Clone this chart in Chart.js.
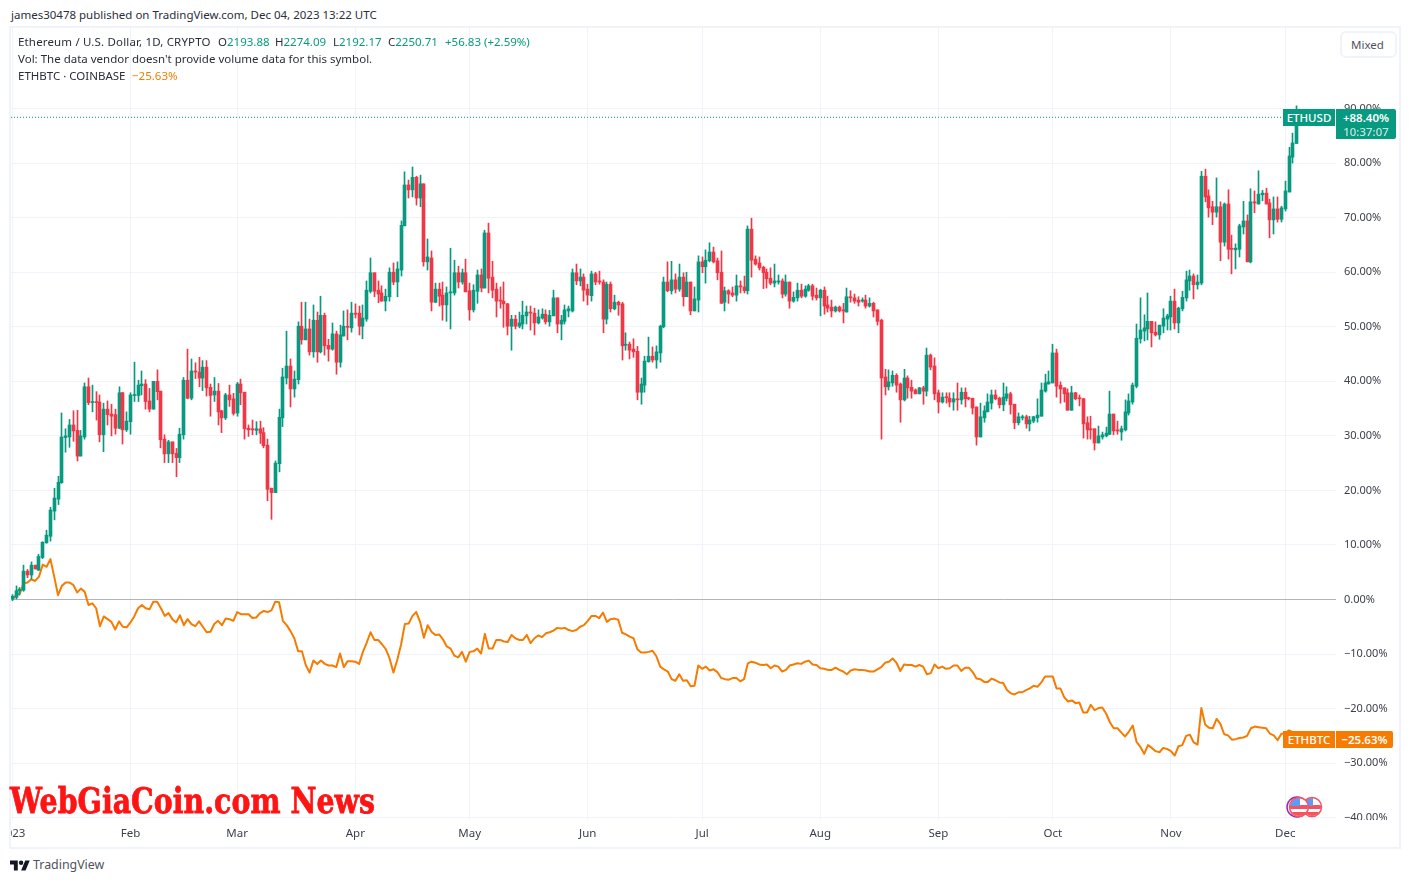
<!DOCTYPE html>
<html>
<head>
<meta charset="utf-8">
<title>ETHUSD vs ETHBTC</title>
<script src="https://cdn.jsdelivr.net/npm/chart.js@4"></script>
<style>
  html, body { margin: 0; padding: 0; background: #fff; }
  body { width: 1410px; height: 883px; position: relative; overflow: hidden; font-family: "Noto Sans", sans-serif; font-size: 11.5px; color: #2a2e39; }
  .abs { position: absolute; white-space: nowrap; line-height: 16px; }
  #frame { position: absolute; left: 9px; top: 26px; width: 1388px; height: 819px; border: 2px solid #f0f3fa; }
  #priceChart { position: absolute; left: 11px; top: 28px; }
  .up { color: #089981; }
  .tag { position: absolute; color: #fff; text-align: center; white-space: nowrap; }
  #mixed { position: absolute; left: 1340px; top: 31px; width: 44px; height: 23px; padding-left: 9px; border: 2px solid #f0f3fa; border-radius: 6px; line-height: 24px; color: #50535e; background: #fff; }
  #brand { position: absolute; left: 10px; top: 778px; font-family: "DejaVu Serif", serif; font-weight: bold; font-size: 36px; line-height: 44px; color: #ff1414; -webkit-text-stroke: 0.8px #ff1414; white-space: nowrap; transform-origin: 0 0; transform: scaleX(0.79); }
</style>
</head>
<body>
<div id="frame"></div>
<canvas id="priceChart" width="1388" height="819" style="width:1388px;height:819px"></canvas>

<div class="abs" style="left:11px;top:7px">james30478 published on TradingView.com, Dec 04, 2023 13:22 UTC</div>
<div class="abs" style="left:18px;top:34px;letter-spacing:.16px">Ethereum / U.S. Dollar, 1D, CRYPTO</div>
<div class="abs" style="left:218px;top:34px">O<span class="up">2193.88</span></div>
<div class="abs" style="left:275px;top:34px">H<span class="up">2274.09</span></div>
<div class="abs" style="left:333px;top:34px">L<span class="up">2192.17</span></div>
<div class="abs" style="left:388px;top:34px">C<span class="up">2250.71</span></div>
<div class="abs up" style="left:445px;top:34px">+56.83 (+2.59%)</div>
<div class="abs" style="left:18px;top:51px">Vol: The data vendor doesn't provide volume data for this symbol.</div>
<div class="abs" style="left:18px;top:68px">ETHBTC · COINBASE</div>
<div class="abs" style="left:132px;top:68px;color:#f57c00">−25.63%</div>
<div id="mixed">Mixed</div>

<div class="tag" style="left:1283px;top:109px;width:52px;height:17px;line-height:17px;background:#089981;font-weight:500">ETHUSD</div>
<div class="tag" style="left:1336px;top:109px;width:60px;height:30px;background:#089981;border-radius:0 2px 2px 0;line-height:14px;padding-top:2px;box-sizing:border-box;font-weight:600">+88.40%<br><span style="opacity:.75;font-weight:500">10:37:07</span></div>
<div class="tag" style="left:1283px;top:731px;width:52px;height:17px;line-height:17px;background:#f57c00;font-weight:500">ETHBTC</div>
<div class="tag" style="left:1336px;top:731px;width:57px;height:17px;line-height:17px;background:#f57c00;border-radius:0 2px 2px 0;font-weight:600">−25.63%</div>

<div id="brand">WebGiaCoin.com News</div>

<svg class="abs" style="left:1285px;top:796px" width="40" height="24" viewBox="0 0 40 24">
  <defs><clipPath id="c1"><circle cx="27" cy="11" r="9"/></clipPath><clipPath id="c2"><circle cx="14" cy="11" r="9"/></clipPath></defs>
  <circle cx="12" cy="11" r="10" fill="#fff" stroke="#9c27b0" stroke-width="1.5"/>
  <g clip-path="url(#c1)"><rect x="17" y="1" width="20" height="20" fill="#fff"/><rect x="17" y="9" width="20" height="4" fill="#f7525f"/><rect x="17" y="16" width="20" height="4" fill="#f7525f"/><rect x="17" y="2" width="11" height="8" fill="#5b9cf6"/></g>
  <circle cx="27" cy="11" r="9.5" fill="none" stroke="#f7525f" stroke-width="1.5"/>
  <g clip-path="url(#c2)"><rect x="4" y="1" width="20" height="20" fill="#fff"/><rect x="4" y="9" width="20" height="4" fill="#f7525f"/><rect x="4" y="16" width="20" height="4" fill="#f7525f"/><rect x="4" y="2" width="11" height="8" fill="#5b9cf6"/></g>
  <circle cx="14" cy="11" r="9.5" fill="none" stroke="#f7525f" stroke-width="1.5"/>
</svg>

<svg class="abs" style="left:10px;top:860px" width="20" height="11" viewBox="0 4 36 18"><path fill="#131722" d="M14 22H7V11H0V4h14v18zM28 22h-8l7.5-18h8L28 22z"/><circle fill="#131722" cx="20" cy="8" r="4"/></svg>
<div class="abs" style="left:33px;top:857px;font-size:12.4px;color:#50535e">TradingView</div>

<script>
// percent change from first candle, one entry per day from Jan 1 2023
const opens = [
  0,0.4,1.6,1.7,5.2,4.5,6.3,5.4,7.7,10.4,11.6,16.2,18.4,21.4,29.7,29.8,32,31,26.3,29.8,
  39,36.1,36.2,36.2,30.2,34.9,34,33.9,31.4,37.9,31.1,32.6,37.4,37.4,39.2,39.5,36.4,34.9,40,38.2,
  29.4,26.7,28.9,26.8,26,30.2,40.2,36.9,41.9,41.7,40.6,42.6,38.9,37.5,38.2,34.6,33.3,37.5,36.8,34.2,
  39.5,38,31.4,31.3,31,31.3,30.6,28.3,20.4,19.6,24.9,33.3,40.6,42.8,38.6,40.3,50.1,47.6,49.6,45.4,
  51.2,45.4,52.1,46.6,45.9,48.7,43.5,48.3,50.1,49.8,52.5,52.5,50.1,51.4,56.5,59.9,56.7,56.2,54.7,55.5,
  60,58.2,60.4,68.5,76,75.1,77.4,73.6,76.2,61.9,62.6,54.5,56.9,55.8,54,56.2,56.2,59.9,58.2,59.9,
  56.6,53.1,56.5,59.5,57.1,67.2,59.1,56.9,54.9,54.7,54.2,50.1,51.4,50.1,50.5,52,52.7,52.5,50.7,51.6,
  52.3,50.9,52,55.3,50.5,51,52.9,52.9,59.9,58.4,59.1,56.9,55.7,59.7,58.4,58.2,51.4,57.8,53.3,54.5,
  54.2,46.6,46.8,45.9,45.5,38,39.3,43.6,44.6,43.9,45.2,50,58.2,56.6,58.6,56.9,59.1,55.5,58.2,52.9,
  54.9,61.9,61,62.1,63.7,62.1,60,54.5,56.6,56.2,55.8,57.5,57.3,56.6,67.9,62.4,61.7,60.9,60,58.9,
  58,58.2,58.4,56,58.2,54.7,55.3,56.7,55.6,56.7,57.5,55.8,55.3,56.7,54,53.6,52.9,53.6,53.1,52.7,
  55.5,55.3,54.9,54.7,54.9,53.8,54.3,53.1,51.2,40.8,39,39.7,41.1,39.5,36.6,40.6,38.9,38.4,37.7,38.8,
  38.2,44.8,42.8,37.9,36.2,37.1,36.9,36.2,36.8,36.6,38,36.9,36.9,35.3,29.8,33.3,34.4,36,37.5,36.9,
  35.7,36.9,37.7,35.8,32.4,33.3,33.5,32.2,32.7,33.3,33.6,38.2,39.5,39.7,45.2,39.3,38.8,37.9,34.7,37.9,
  36.9,36.8,32.4,31.3,31.3,28.7,29.8,30,30.3,34,31.1,30.7,31.1,34.2,36.2,39.1,47.8,49.2,49.6,51,
  49,48.5,50.1,51.4,51.8,54.7,50.7,53.3,55.3,58.4,59.3,57.7,58,77.6,74,72,71,72,65.5,72.5,
  64.4,64.1,64.2,68.3,69.4,61.9,72.9,72.5,74.2,74.5,72.7,69.6,71.6,69.7,71.6,74.7,81.1,83.6
];
const highs = [
  0.9,2.5,2.2,6.3,5.5,6.9,6.3,8.3,10.6,12.7,16.9,20.4,22.6,34.2,31.3,33,34.6,34.7,31,39.7,
  40.6,39.3,38.1,37.5,36,36.4,35.8,34.9,39,38,34.4,37.9,43.5,40.2,41.9,40.3,38.7,40,42.1,38.2,
  30.2,29.2,28.9,27.7,31.4,40.7,45.9,44.1,43.4,44.4,43.8,43.8,39.5,40.7,39.6,34.7,37.8,39.3,37.8,39.8,
  40.4,38,32,32.9,32.6,32.7,31.5,29.4,20.4,25.4,34.9,42.4,49.2,44.1,41.9,50.9,54.5,54.5,51.4,54,
  52.7,55.6,52.5,47.7,50.7,49.2,50.3,52.9,53.1,54.5,54.2,53.8,54,58.4,62.6,59.9,58.4,57.5,56.9,60.8,
  61.7,61.9,69.4,78.4,76.9,79.3,77.6,77.8,76.2,66.1,63.9,58,58,58.2,57.3,64.4,62.2,61.1,60.6,62.4,
  58,57.7,60.4,60.6,67.7,69,62,58,57.3,58.2,54.3,52.1,52.1,52.7,54.7,53.8,53.8,53.4,53.1,53.3,
  53.1,53,56.7,55.3,52.1,54,53.8,60.6,61.5,60.6,59.7,57.8,60.2,60,60.2,58.6,58.2,58.2,55.8,54.7,
  54.5,48.9,47.2,47.8,46.4,40.6,44.6,48.1,46.3,46.5,50.3,59.1,61.9,62,59.7,61.5,59.9,60,58.2,57.3,
  63,62.8,64.1,65.4,64.6,62.6,63.9,57.3,56.8,57.3,59.5,58.4,59.3,68.5,69.9,63,62.8,61.1,60.6,60.8,
  61.5,59.5,58.8,59.5,58.2,56.4,58,57.8,57.5,57.8,57.8,57.1,56.9,57.3,55.6,54.9,53.8,53.8,54.3,57.1,
  56.6,56,55.5,55.3,55.8,55.3,54.5,53.1,51.4,42.2,42.1,41.9,41.4,39.7,42.2,41,40.2,38.6,38.9,39.1,
  46.1,45,44.3,38.4,37.9,37.9,37.9,37.9,39.7,38.8,38.8,37.1,36.9,35.3,36,35.5,37.7,38.4,38.4,37.1,
  39.7,39,38,35.8,34.2,33.8,33.8,33.6,33.6,36.8,39.7,41.3,41.9,46.8,45.9,39.9,38.8,38.6,39.1,38,
  37.5,36.9,33.5,33.6,31.3,31.8,30.7,31.6,38.2,34,32.7,31.8,36.6,37.7,39.7,50.5,55.3,52.2,56.2,51,
  50.9,50.3,53.3,52.3,55.6,56.9,53.6,56.5,60.2,60.4,59.7,59.5,78.5,78.9,75.1,73,77.3,72.9,72.7,75.1,
  66.8,65.2,68.8,73,70.5,75.3,74.9,78.6,75,75.4,73.4,73.8,73.8,72.1,76.7,82.9,85.5,90.5
];
const lows = [
  -0.2,0,0.8,1.5,4,3.7,5.6,5.3,7.5,10.3,10.7,14.6,17.4,21.3,27,27.9,29,25.4,26.3,29.4,
  35.7,34.4,32.9,28.9,27.1,32,30,30.3,31.3,28.5,30.8,30.3,36.3,36.3,37.5,34.9,34.4,34.9,36.6,27.8,
  25.1,25.1,25.1,22.5,25.1,29.4,36.8,36.6,40.5,39,38.3,37.3,33.6,36.3,32,30.6,33,35.4,33.8,33.6,
  35.7,29.4,29.9,30.2,30.2,28.6,27.8,18.1,14.7,19.6,23.4,31.7,39.5,35.3,37.1,39.5,46.8,47.6,44.8,44.4,
  43.5,45.2,44.8,43.7,45.7,41.3,42.6,48.3,47.6,49,51.6,48.5,47.8,51,56.2,55.5,54.4,54.7,52.9,54.7,
  57.7,55.5,59.3,68.5,73.6,73.8,72.3,72,61.1,60.4,52.9,54.4,53.8,51.2,51,49.6,55.8,57.1,57.8,56.4,
  51.2,52.7,54.3,56.4,57.1,56.2,55.3,51.8,53.4,49.9,48.5,45.7,49.6,49.8,49.6,50.5,49.4,48.5,50.5,51.4,
  50.5,50.1,52,48.9,47.6,50.5,51.8,52.7,57.7,57.5,54.7,54,54.7,57.7,57.8,48.9,50.5,52.7,53.1,52.1,
  43.9,45.7,44.1,44.4,36.6,35.8,38,43.5,43.5,42.4,43.5,49.8,56.4,56,56.2,56.5,53.8,55.5,52.2,52.9,
  52.7,59.9,58,61.9,61.7,58.6,54.3,52.9,54.3,55.5,54.7,56.2,56.2,56,59.1,61.3,60.4,57,57.1,57.7,
  57.3,57.8,55.3,55.6,53.4,54.5,54.7,55.3,55.4,56.5,54.9,54.9,52,52.3,52.7,51.8,52.7,52.7,50.7,52.7,
  54.5,54.3,53.8,54.5,53.4,53.6,51.8,50.3,29.4,37.5,38.4,39.1,38,32.5,36.4,36.9,36.9,37.7,37.7,35.8,
  37.3,42.1,36.6,34.2,36,36,35.3,34.7,34.7,35.8,35.3,36.6,34,28.3,29.8,32.5,34.4,34.9,36.6,35.1,
  34.6,36.4,34,31.3,32,32.9,31.4,30.9,32.4,32.5,33.6,38,39.5,39.7,37.1,36,36.2,34.7,34.7,36.6,
  35.5,29.6,29.4,29.4,27.4,28.7,29.4,29.8,30.2,30.2,30.3,29.2,30.9,33.8,35.8,38.8,47,47.4,47.6,46.3,
  48.3,47.7,48.9,49.4,49.4,49.6,48.9,52.9,54.7,56.7,55.1,56.9,57.7,72.9,70.1,68.7,70.1,62.1,64.8,62.4,
  59.7,60.6,62.8,67,61.9,61.7,70.9,72.5,73.1,72.5,66.3,67,69.2,69.2,71.2,74.7,80,83.6
];
const closes = [
  0.6,1.6,1.9,5.2,4.5,6.3,5.6,7.9,10.5,11.8,16.4,18.6,21.5,29.8,30,32,30.9,26.3,30,39,
  36.1,36.2,36.1,30.2,34.9,33.9,33.6,31.4,37.9,31.1,32.7,37.5,37.5,39.3,39.5,36.3,34.9,40,38.1,29.3,
  26.7,28.9,26.7,26,30.3,40.2,36.9,41.9,41.7,40.6,42.6,38.8,37.4,38.2,34.4,33.3,37.5,36.6,34.1,39.5,
  37.9,31.3,31.1,31.1,31.3,30.5,28.2,20.2,19.6,25,33.4,40.8,42.8,38.6,40.4,50.1,47.6,49.6,45.4,51.2,
  45.4,52.1,46.5,45.9,48.7,43.5,48.5,50.1,49.9,52.5,52.3,50.1,51.6,56.7,59.9,56.5,56,54.7,55.6,60,
  58.2,60.6,68.6,76,75.1,77.4,73.6,76.2,61.9,62.8,54.5,56.9,55.6,54,56.2,56.4,59.9,58.2,59.9,56.4,
  53.1,56.7,59.5,57.1,67.2,58.9,56.7,54.7,54.7,54.2,50.1,51.4,50.1,50.7,52.1,52.7,52.5,50.7,51.8,52.3,
  50.9,52.1,55.3,50.5,51.2,53.1,53.3,59.9,58.4,59.1,56.7,55.8,59.7,58.2,58.2,51.4,57.8,53.3,54.5,54,
  46.5,46.8,45.7,45.4,38,39.5,43.7,44.6,43.9,45.4,50.1,58.2,56.6,58.6,56.9,59.1,55.5,58.2,52.9,55.1,
  61.9,61,62.2,63.7,61.9,59.9,54.3,56.6,56,55.8,57.5,57.3,56.6,67.9,62.2,61.5,60.8,59.9,58.8,58,
  58.4,58.4,56,58.2,54.7,55.4,56.7,55.6,56.9,57.5,55.6,55.3,56.7,53.8,53.4,52.9,53.6,52.9,52.9,55.5,
  55.3,54.7,54.5,54.9,53.8,54.3,52.9,51,40.6,39,39.9,41.1,39.3,36.6,40.6,38.8,38.2,37.7,38.8,38.2,
  44.8,42.6,37.7,36.2,37.1,37,36.2,36.8,36.6,38,36.8,36.8,35.1,29.8,33.5,34.6,36.2,37.5,36.8,35.7,
  37.1,37.7,35.7,32.4,33.5,33.5,32.2,32.9,33.5,33.8,38.4,39.7,39.9,45.2,39.1,38.6,37.7,34.7,37.9,36.8,
  36.8,32.2,31.1,31.1,28.7,30,30.2,30.5,34,30.9,30.9,31.3,34.4,36.4,39.3,47.9,49.4,49.8,51,48.9,
  48.5,50.3,51.6,52,54.7,50.7,53.4,55.4,58.6,59.3,57.7,58.2,77.6,73.8,71.8,71,72,65.5,72.5,64.2,
  64.2,64.4,68.5,69.4,61.9,72.9,72.7,74.3,74.5,72.5,69.6,71.6,69.7,71.8,74.9,81.3,83.7,88.4
];
const ethbtc = [
  0,0.8,1.1,3,3.1,3.7,3.4,4.2,6.4,6,7.4,4.2,0.8,2.5,3.1,3.1,2.7,1.3,2,1.4,
  -1,-0.7,-1.6,-4.9,-3.1,-3.6,-4.1,-5.5,-4,-5,-5.1,-4.2,-3.1,-1.6,-1,-1.6,-1.8,-0.4,-0.4,-1.6,
  -3,-2.5,-3.6,-4.2,-2.9,-4.7,-3.6,-4.5,-4.9,-4,-5,-6,-5.9,-4.5,-3.9,-4.7,-3.5,-3.6,-3.9,-2.3,
  -2.7,-2.7,-2.7,-3.4,-3.3,-2.5,-2.1,-2.3,-2,-0.4,-0.5,-3.9,-4.7,-5.8,-7.1,-9.5,-9.5,-12,-13.4,-11.2,
  -11.8,-11.2,-11.8,-12.1,-12.1,-12.4,-9.9,-12.4,-11.3,-11.3,-11.4,-11.8,-9.6,-7.9,-6,-7.4,-7.4,-8.2,-9.1,-10.8,
  -13.4,-11.1,-8.3,-4.5,-4.4,-3,-2.3,-4.1,-7,-4.7,-5.9,-6.5,-6.4,-7.3,-8.6,-9,-10.3,-10.6,-9.6,-11.4,
  -9.6,-9.5,-9,-9.9,-6.3,-9,-9,-7.4,-7.4,-7.7,-7.8,-6.5,-7.1,-7.4,-7.4,-6.5,-8,-7.1,-6.6,-6.9,
  -6.2,-6,-5.7,-5.2,-5.3,-5.2,-5.6,-5.8,-5.6,-5,-4.7,-3.9,-3,-3,-3.4,-2.4,-4.1,-3.6,-3.5,-3.7,
  -6.1,-6.4,-6.8,-7.1,-9.1,-9.7,-9.7,-9.6,-9.4,-10.4,-12.3,-12.8,-13.2,-14.6,-14.9,-13.7,-14.9,-14.8,-15.9,-15.8,
  -12.1,-12.7,-12.3,-13,-12.8,-13.3,-14.4,-14.6,-14.7,-14.4,-14.4,-15,-14.6,-11.7,-11.4,-11.6,-11.9,-12,-11.9,-12.6,
  -12.1,-12.3,-13.2,-12.9,-12.1,-11.9,-11.7,-11.8,-11.4,-11.2,-11.9,-12,-12.6,-12.7,-12.9,-12.9,-12.5,-12.9,-13.2,-13.7,
  -13,-12.8,-12.9,-12.9,-13,-13.2,-13.2,-12.8,-12.4,-11.6,-11.4,-10.8,-11.6,-13.1,-11.9,-12,-12,-12.3,-12,-12.3,
  -13.7,-13.5,-11.9,-12.6,-12.3,-12.7,-12.6,-12.1,-12.1,-13.1,-12.5,-12.5,-13.3,-14.5,-14.6,-15.1,-15.1,-14.5,-14.8,-15.2,
  -15.3,-16.6,-17.2,-17.4,-17,-17,-16.6,-16.3,-15.8,-16,-15.2,-14.1,-14.1,-14.1,-16.3,-16.3,-17.9,-18.7,-18.5,-19,
  -18.9,-20.7,-20.7,-19.3,-20.3,-19.9,-19.8,-20.9,-22.5,-23.6,-23.6,-24.4,-25.1,-24.2,-23.1,-26.1,-27,-28.3,-26.7,-27.2,
  -27.8,-28,-27.2,-27.4,-27.8,-28.6,-26.9,-26.7,-25,-24.8,-26.2,-26.6,-19.9,-22.9,-23.5,-23.6,-21.9,-22.8,-24.7,-24.9,
  -25.7,-25.6,-25.4,-25.3,-25,-23.6,-23.3,-23.4,-23.5,-23.6,-24.6,-24.9,-25.8,-24.6,-24.5,-24,-24.3,-25.63
];

const lastPct = 88.4;
const yTickValues = [-40, -30, -20, -10, 0, 10, 20, 30, 40, 50, 60, 70, 80, 90];
const monthDays = [0, 31, 59, 90, 120, 151, 181, 212, 243, 273, 304, 334];
const monthLabels = ["2023", "Feb", "Mar", "Apr", "May", "Jun", "Jul", "Aug", "Sep", "Oct", "Nov", "Dec"];

const xMin = -0.34, xMax = 347.33;
const yMin = -40.42, yMax = 104.77;

const UP = "#089981";
const DOWN = "#F23645";
const ORANGE = "#F57C00";
const GRID = "#f0f3fa";
const AXIS_TEXT = "#3c3f4a";
const FONT = { family: "'Noto Sans', sans-serif", size: 11 };

const candleColors = opens.map((o, i) => closes[i] >= o ? UP : DOWN);

// pixel snap so thin wicks stay crisp like the original, then clip the last y label
const candlePlugin = {
  id: "candleTweaks",
  afterDatasetsUpdate(chart) {
    chart.data.datasets.forEach((ds, idx) => {
      if (ds.type === "line") return;
      chart.getDatasetMeta(idx).data.forEach(el => { el.x = Math.floor(el.x) + 0.5; });
    });
  },
  afterDraw(chart) {
    const { ctx, scales } = chart;
    ctx.save();
    ctx.fillStyle = "#fff";
    ctx.fillRect(scales.y.left, chart.chartArea.bottom, scales.y.width, 26);
    ctx.restore();
  }
};

new Chart(document.getElementById("priceChart"), {
  type: "bar",
  data: {
    datasets: [
      {
        type: "line",
        label: "last",
        data: [{ x: xMin, y: lastPct }, { x: xMax, y: lastPct }],
        borderColor: UP,
        borderWidth: 1,
        borderDash: [1, 2],
        pointRadius: 0,
        order: 4
      },
      {
        type: "line",
        label: "ETHBTC",
        data: ethbtc.map((v, i) => ({ x: i, y: v })),
        borderColor: ORANGE,
        borderWidth: 2,
        borderJoinStyle: "round",
        pointRadius: 0,
        tension: 0,
        order: 3
      },
      {
        label: "wick",
        data: lows.map((l, i) => ({ x: i, y: [l, highs[i]] })),
        backgroundColor: candleColors,
        barThickness: 1,
        order: 2
      },
      {
        label: "body",
        data: opens.map((o, i) => ({ x: i, y: [o, closes[i]] })),
        backgroundColor: candleColors,
        barThickness: 3,
        minBarLength: 1,
        order: 1
      }
    ]
  },
  options: {
    responsive: false,
    animation: false,
    events: [],
    grouped: false,
    layout: { padding: 0 },
    plugins: { legend: { display: false }, tooltip: { enabled: false } },
    scales: {
      x: {
        type: "linear",
        offset: false,
        min: xMin,
        max: xMax,
        grid: { color: GRID, drawTicks: false, offset: false },
        border: { display: false },
        afterBuildTicks: scale => { scale.ticks = monthDays.map(v => ({ value: v })); },
        afterFit: scale => { scale.height = 27; scale.paddingLeft = 0; scale.paddingRight = 0; },
        ticks: {
          autoSkip: false,
          maxRotation: 0,
          padding: 7,
          color: AXIS_TEXT,
          font: { family: FONT.family, size: 11.5 },
          callback: value => monthLabels[monthDays.indexOf(value)]
        }
      },
      y: {
        position: "right",
        min: yMin,
        max: yMax,
        grid: {
          drawTicks: false,
          color: ctx => ctx.tick && ctx.tick.value === 0 ? "#b2b5be" : GRID
        },
        border: { display: false },
        afterBuildTicks: scale => { scale.ticks = yTickValues.map(v => ({ value: v })); },
        afterFit: scale => { scale.width = 63; scale.paddingTop = 0; scale.paddingBottom = 0; },
        ticks: {
          padding: 8,
          color: AXIS_TEXT,
          font: FONT,
          callback: value => value.toFixed(2).replace("-", "−") + "%"
        }
      }
    }
  },
  plugins: [candlePlugin]
});
</script>
</body>
</html>
